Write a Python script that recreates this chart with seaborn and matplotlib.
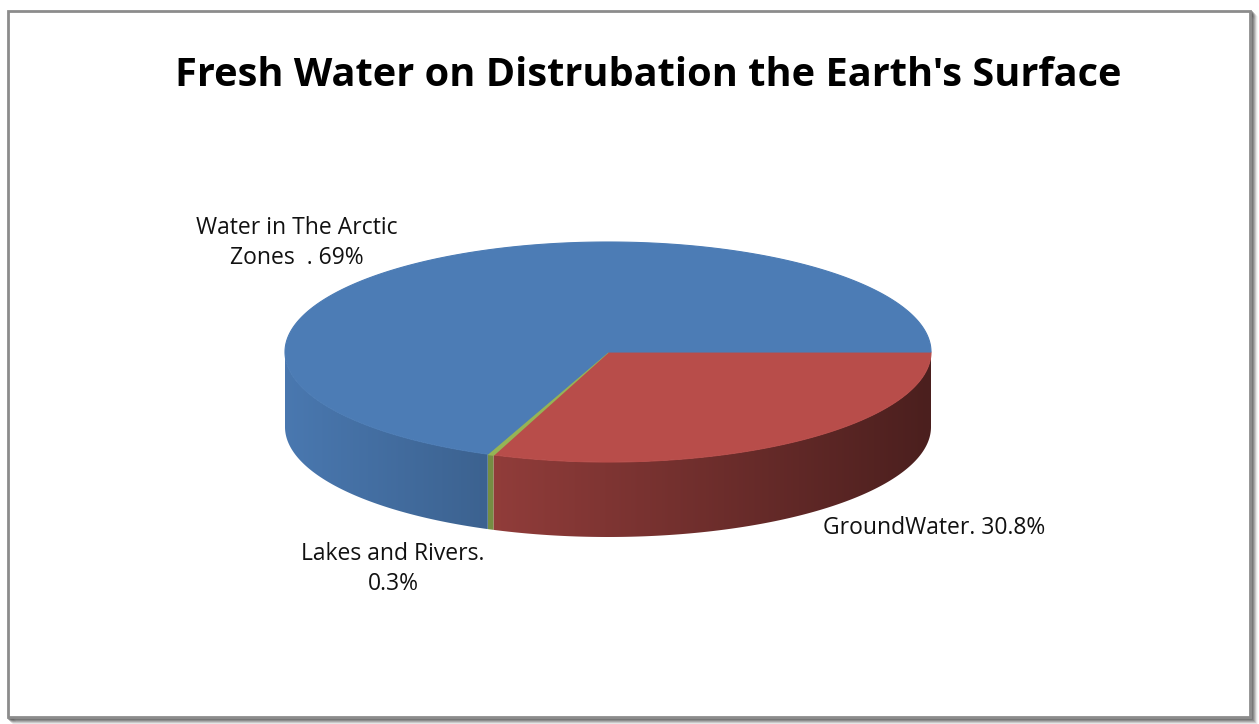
import numpy as np
import matplotlib
matplotlib.use("Agg")
import matplotlib.pyplot as plt
from matplotlib.patches import Polygon, Rectangle
from matplotlib.colors import to_rgb
import seaborn as sns

# data (clockwise from 3 o'clock)
categories = ["GroundWater", "Lakes and Rivers", "Water in The Arctic Zones"]
values = [30.8, 0.3, 69]
labels = ["GroundWater. 30.8%", "Lakes and Rivers.\n0.3%", "Water in The Arctic\nZones  . 69%"]
colors = ["#c0504d", "#9bbb59", "#4f81bd"]
title = "Fresh Water on Distrubation the Earth's Surface"

sns.set_theme(style="white")
plt.rcParams["font.family"] = ["Open Sans", "DejaVu Sans"]

W, H = 1259, 724
fig = plt.figure(figsize=(W / 100, H / 100), dpi=100)
ax = fig.add_axes([0, 0, 1, 1])
ax.set_xlim(0, W)
ax.set_ylim(H, 0)
ax.axis("off")

# chart frame with soft shadow
for i, a in enumerate([0.5, 0.4, 0.3, 0.2, 0.1, 0.05]):
    ax.add_patch(Rectangle((9 + i, 12 + i), 1242, 706, fill=False,
                           edgecolor=(0.3, 0.3, 0.3, a), lw=2, zorder=0))
ax.add_patch(Rectangle((8, 11), 1242, 706, facecolor="white",
                       edgecolor="#8c8c8c", lw=2, zorder=1))

# pie geometry (pixels)
cx, cy, rx, ry, depth = 608, 352, 323, 110, 75

total = sum(values)
edges = np.concatenate([[0], np.cumsum(values)]) / total * 360


def shade(nx):
    return 0.66 - 0.27 * nx


# sides (front half only)
for (t1, t2), col in zip(zip(edges[:-1], edges[1:]), colors):
    a1, a2 = max(t1, 0), min(t2, 180)
    if a2 <= a1:
        continue
    t = np.radians(np.linspace(a1, a2, 200))
    xs = cx + rx * np.cos(t)
    ys = cy + ry * np.sin(t)
    pts = np.vstack([np.column_stack([xs, ys]),
                     np.column_stack([xs[::-1], ys[::-1] + depth])])
    poly = Polygon(pts, closed=True, facecolor="none", edgecolor="none")
    ax.add_patch(poly)
    x0, x1 = xs.min(), xs.max()
    gx = np.linspace(x0, x1, 300)
    f = shade((gx - cx) / rx)
    img = np.clip(np.array(to_rgb(col))[None, :] * f[:, None], 0, 1)[None, :, :]
    im = ax.imshow(img, extent=(x0, x1, cy + ry + depth + 2, cy - 2),
                   aspect="auto", interpolation="bilinear", zorder=2)
    im.set_clip_path(poly)

# tops
for (t1, t2), col in zip(zip(edges[:-1], edges[1:]), colors):
    t = np.radians(np.linspace(t1, t2, max(int(t2 - t1) * 3, 4)))
    pts = np.vstack([[cx, cy], np.column_stack([cx + rx * np.cos(t), cy + ry * np.sin(t)])])
    c = np.clip(np.array(to_rgb(col)) * 0.96, 0, 1)
    ax.add_patch(Polygon(pts, closed=True, facecolor=c, edgecolor=c,
                         lw=0.8 if t2 - t1 > 5 else 1.4, zorder=3))

# labels
label_pos = [(934, 528), (393, 569), (297, 243)]
for txt, (lx, ly) in zip(labels, label_pos):
    ax.text(lx, ly, txt, ha="center", va="center", fontsize=16.5,
            color="#111111", linespacing=1.3, zorder=5)

ax.text(648, 75, title, ha="center", va="center", fontsize=28.6,
        fontweight="bold", color="black", zorder=5)

fig.savefig("out.png", dpi=100)
